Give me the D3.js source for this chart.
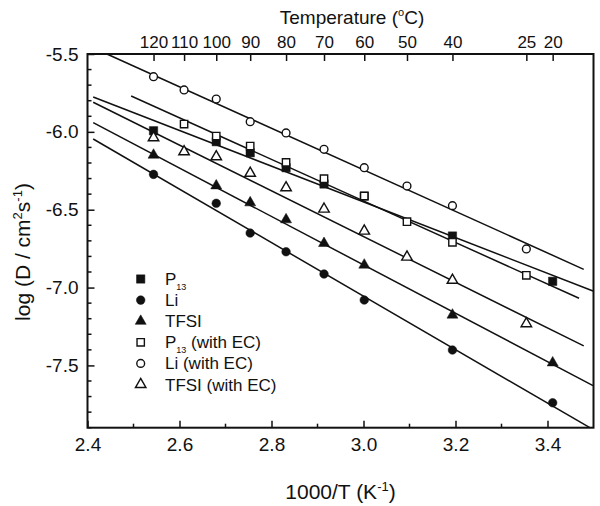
<!DOCTYPE html>
<html><head><meta charset="utf-8">
<script src="https://cdn.jsdelivr.net/npm/d3@7/dist/d3.min.js"></script>
<style>
html,body{margin:0;padding:0;background:#fff;}
svg text{font-family:"Liberation Sans",Arial,sans-serif;fill:#111;}
</style></head>
<body>
<svg id="chart" width="600" height="506"></svg>
<script>
// ---- data ----
const topTemps = [120,110,100,90,80,70,60,50,40,25,20];
const xTicks = [2.4,2.6,2.8,3.0,3.2,3.4];
const yTicks = [-5.5,-6.0,-6.5,-7.0,-7.5];

const tempsNeat = [120,100,90,80,70,60,40,20];
const tempsEC = [120,110,100,90,80,70,60,50,40,25];
const tempsP13EC = [110,100,90,80,70,60,50,40,25];

const p13 = [-5.993,-6.063,-6.134,-6.230,-6.335,-6.412,-6.669,-6.960];
const li = [-6.273,-6.459,-6.650,-6.770,-6.913,-7.080,-7.401,-7.740];
const tfsi = [-6.149,-6.346,-6.455,-6.564,-6.716,-6.855,-7.176,-7.483];
const p13EC = [-5.950,-6.027,-6.091,-6.196,-6.301,-6.412,-6.577,-6.709,-6.921];
const liEC = [-5.646,-5.731,-5.789,-5.935,-6.007,-6.112,-6.230,-6.348,-6.474,-6.752];
const tfsiEC = [-6.038,-6.128,-6.160,-6.266,-6.359,-6.496,-6.637,-6.804,-6.953,-7.232];

// fitted lines: [x0, y0, x1, y1]
const fitP13 = [2.4124,-5.776,3.499,-7.022];
const fitLi = [2.4124,-6.046,3.492,-7.90];
const fitTFSI = [2.4124,-5.941,3.499,-7.630];
const fitP13EC = [2.4949,-5.770,3.4686,-7.069];
const fitLiEC = [2.4421,-5.5,3.4788,-6.883];
const fitTFSIEC = [2.4124,-5.810,3.4788,-7.375];

const seriesNames = ["P13","Li","TFSI","P13 (with EC)","Li (with EC)","TFSI (with EC)"];

// ---- layout ----
const svg = d3.select("#chart");
const L = 87.5, R = 593.5, T = 54, B = 427.7;
const x = d3.scaleLinear().domain([2.4,3.5]).range([L,R]);
const y = d3.scaleLinear().domain([-7.9,-5.5]).range([B,T]);
const invT = t => 1000/(t+273.15);

const series = [
  {temps:tempsNeat, vals:p13, fit:fitP13, shape:d3.symbolSquare, size:70, filled:true},
  {temps:tempsNeat, vals:li, fit:fitLi, shape:d3.symbolCircle, size:58, filled:true},
  {temps:tempsNeat, vals:tfsi, fit:fitTFSI, shape:d3.symbolTriangle, size:52, filled:true},
  {temps:tempsP13EC, vals:p13EC, fit:fitP13EC, shape:d3.symbolSquare, size:54, filled:false},
  {temps:tempsEC, vals:liEC, fit:fitLiEC, shape:d3.symbolCircle, size:48, filled:false},
  {temps:tempsEC, vals:tfsiEC, fit:fitTFSIEC, shape:d3.symbolTriangle, size:48, filled:false}
];

const ink = "#111";

// fit lines
const g = svg.append("g");
series.forEach(s => {
  g.append("line")
    .attr("x1", x(s.fit[0])).attr("y1", y(s.fit[1]))
    .attr("x2", x(s.fit[2])).attr("y2", y(s.fit[3]))
    .attr("stroke", ink).attr("stroke-width", 1.5);
});

// markers
series.forEach(s => {
  const sym = d3.symbol().type(s.shape).size(s.size);
  g.selectAll(null).data(s.vals).enter().append("path")
    .attr("d", sym)
    .attr("transform", (d,i) => `translate(${x(invT(s.temps[i]))},${y(d)})`)
    .attr("fill", s.filled ? ink : "#fff")
    .attr("stroke", ink)
    .attr("stroke-width", s.filled ? 0.5 : 1.4);
});

// axes
const fmt = d => d3.format(".1f")(d).replace("−","-");
const bottomAxis = d3.axisBottom(x).tickValues(xTicks).tickFormat(fmt).tickSize(-7).tickPadding(10);
const leftAxis = d3.axisLeft(y).tickValues(yTicks).tickFormat(fmt).tickSize(-7).tickPadding(9);
const topAxis = d3.axisTop(x).tickValues(topTemps.map(invT)).tickFormat((d,i)=>topTemps[i]).tickSize(-7).tickPadding(6);

const minorX = d3.range(2.5,3.5,0.2);
const minorY = d3.range(-5.6,-7.9,-0.1).filter(v => Math.abs(v*2 - Math.round(v*2)) > 1e-6);

function styleAxis(sel, fs){
  sel.select(".domain").remove();
  sel.selectAll(".tick line").attr("stroke", ink).attr("stroke-width", 1.5);
  sel.selectAll("text").attr("font-size", fs).attr("fill", ink);
}

svg.append("g").attr("transform",`translate(0,${B})`).call(bottomAxis).call(styleAxis, 19);
svg.append("g").attr("transform",`translate(${L},0)`).call(leftAxis).call(styleAxis, 19);
svg.append("g").attr("transform",`translate(0,${T})`).call(topAxis).call(styleAxis, 17);

// minor ticks
svg.append("g").selectAll("line").data(minorX).enter().append("line")
  .attr("x1", d=>x(d)).attr("x2", d=>x(d)).attr("y1", B).attr("y2", B-4)
  .attr("stroke", ink).attr("stroke-width", 1.5);
svg.append("g").selectAll("line").data(minorY).enter().append("line")
  .attr("y1", d=>y(d)).attr("y2", d=>y(d)).attr("x1", L).attr("x2", L+4)
  .attr("stroke", ink).attr("stroke-width", 1.5);

// frame
svg.append("rect").attr("x",L).attr("y",T).attr("width",R-L).attr("height",B-T)
  .attr("fill","none").attr("stroke",ink).attr("stroke-width",2);

// axis titles
const xt = svg.append("text").attr("x",(L+R)/2).attr("y",499).attr("text-anchor","middle").attr("font-size",21);
xt.append("tspan").text("1000/T (K");
xt.append("tspan").attr("dy",-8).attr("font-size",13).text("-1");
xt.append("tspan").attr("dy",8).text(")");

const tt = svg.append("text").attr("x",352).attr("y",24).attr("text-anchor","middle").attr("font-size",19);
tt.append("tspan").text("Temperature (");
tt.append("tspan").attr("dy",-8).attr("font-size",11).text("o");
tt.append("tspan").attr("dy",8).text("C)");

const yt = svg.append("text").attr("transform",`translate(30,252) rotate(-90)`).attr("text-anchor","middle").attr("font-size",21);
yt.append("tspan").text("log (D / cm");
yt.append("tspan").attr("dy",-8).attr("font-size",13).text("2");
yt.append("tspan").attr("dy",8).text("s");
yt.append("tspan").attr("dy",-8).attr("font-size",13).text("-1");
yt.append("tspan").attr("dy",8).text(")");

// legend
const legY0 = 279, legDy = 21.1, legX = 140.7, legTX = 165;
series.forEach((s,i) => {
  const cy = legY0 + i*legDy;
  const sym = d3.symbol().type(s.shape).size(s.size);
  svg.append("path").attr("d", sym).attr("transform",`translate(${legX},${cy})`)
    .attr("fill", s.filled ? ink : "#fff").attr("stroke", ink)
    .attr("stroke-width", s.filled ? 0.5 : 1.4);
  const t = svg.append("text").attr("x", legTX).attr("y", cy+6).attr("font-size",17);
  const nm = seriesNames[i];
  if (nm.startsWith("P13")) {
    t.append("tspan").text("P");
    t.append("tspan").attr("dy",4.5).attr("font-size",9).text("13");
    t.append("tspan").attr("dy",-4.5).text(nm.slice(3));
  } else {
    t.text(nm);
  }
});
</script>
</body></html>
